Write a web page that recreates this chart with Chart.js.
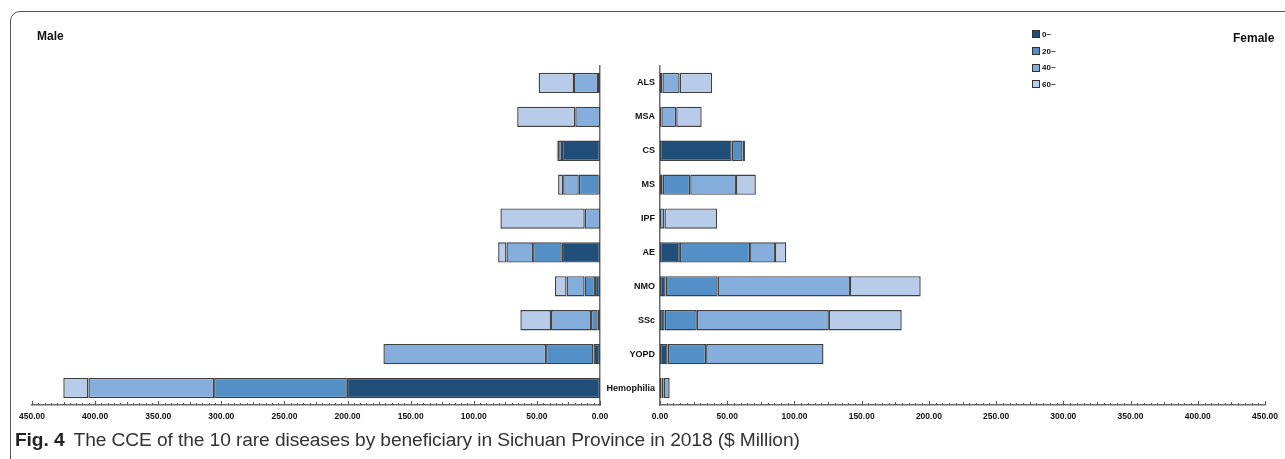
<!DOCTYPE html>
<html>
<head>
<meta charset="utf-8">
<script src="https://cdn.jsdelivr.net/npm/chart.js@4.4.1/dist/chart.umd.min.js"></script>
<style>
  html, body { margin: 0; padding: 0; background: #fff; }
  body { width: 1285px; height: 459px; position: relative; overflow: hidden; font-family: "Liberation Sans", Arial, sans-serif; }
  #frame { position: absolute; left: 10px; top: 11px; width: 1300px; height: 470px; border: 1px solid #555; border-radius: 10px; box-sizing: border-box; }
  #leftWrap { position: absolute; left: 0; top: 0; width: 620px; height: 459px; }
  #rightWrap { position: absolute; left: 600px; top: 0; width: 685px; height: 459px; }
  .side { position: absolute; font-weight: bold; font-size: 12px; color: #111; }
  #legend { position: absolute; left: 1032px; top: 26px; }
  .item { height: 16.7px; display: flex; align-items: center; font-size: 8px; font-weight: bold; color: #111; }
  .box { width: 6px; height: 6px; border: 1px solid #333; margin-right: 2px; }
  #caption { position: absolute; left: 15px; top: 429px; font-size: 19.2px; line-height: 22px; color: #333; white-space: nowrap; letter-spacing: -0.1px; }
  #caption b { margin-right: 9px; color: #222; }
</style>
</head>
<body>
<div id="frame"></div>
<div id="leftWrap"><canvas id="maleChart"></canvas></div>
<div id="rightWrap"><canvas id="femaleChart"></canvas></div>
<div class="side" style="left:37px; top:29px;">Male</div>
<div class="side" style="left:1233px; top:31px;">Female</div>
<div id="legend"></div>
<div id="caption"><b>Fig. 4</b>The CCE of the 10 rare diseases by beneficiary in Sichuan Province in 2018 ($ Million)</div>
<script>
const categories = ['ALS', 'MSA', 'CS', 'MS', 'IPF', 'AE', 'NMO', 'SSc', 'YOPD', 'Hemophilia'];
const ageGroups = ['0~', '20~', '40~', '60~'];
const groupColors = ['#204E79', '#5490C7', '#85AEDD', '#B8CCE9'];

const male0 = [1.6, 0, 30.1, 1.0, 0, 30.3, 4.0, 1.8, 5.2, 200.6];
const male20 = [0, 0, 3.5, 15.8, 0, 22.7, 8.2, 5.3, 37.5, 105.1];
const male40 = [19.0, 19.6, 0.7, 12.4, 12.1, 21.1, 14.3, 31.7, 128.9, 99.6];
const male60 = [28.0, 46.0, 0, 4.0, 66.8, 6.6, 9.2, 24.3, 0, 19.9];

const female0 = [1.8, 1.0, 53.3, 2.0, 0, 14.8, 4.2, 3.5, 5.7, 1.2];
const female20 = [0, 0, 8.1, 20.5, 0, 52.2, 38.7, 23.9, 28.6, 1.5];
const female40 = [12.8, 11.1, 1.8, 34.0, 3.3, 18.5, 98.4, 98.2, 87.3, 4.5];
const female60 = [24.2, 18.9, 0, 14.8, 39.2, 8.4, 52.6, 54.2, 0, 0];

const axisTicks = ['0.00', '50.00', '100.00', '150.00', '200.00', '250.00', '300.00', '350.00', '400.00', '450.00'];

const maleSeries = [male0, male20, male40, male60];
const femaleSeries = [female0, female20, female40, female60];

// small tick marks pointing up from the value axis
const minorTicks = {
    id: 'minorTicks',
    afterDraw: (chart) => {
        const x = chart.scales.x;
        const ctx = chart.ctx;
        const y0 = chart.chartArea.bottom;
        ctx.save();
        ctx.strokeStyle = '#555';
        ctx.lineWidth = 1;
        for (let v = x.min; v <= x.max; v += 5) {
            const px = Math.round(x.getPixelForValue(v)) + 0.5;
            const len = v % 50 === 0 ? 4 : (v % 25 === 0 ? 3 : 2);
            ctx.beginPath();
            ctx.moveTo(px, y0);
            ctx.lineTo(px, y0 - len);
            ctx.stroke();
        }
        ctx.restore();
    }
};

const makeDatasets = (series) => series.map((data, i) => ({
    label: ageGroups[i],
    data: data,
    backgroundColor: groupColors[i],
    borderColor: '#404040',
    borderWidth: 1.4,
    borderSkipped: false,
    categoryPercentage: 1,
    barPercentage: 0.6
}));

const xAxis = (reverse) => ({
    type: 'linear',
    stacked: true,
    reverse: reverse,
    min: 0,
    max: 450,
    afterBuildTicks: (scale) => {
        scale.ticks = axisTicks.map(t => ({ value: parseFloat(t) }));
    },
    afterFit: (scale) => { scale.height = 20; },
    ticks: {
        autoSkip: false,
        maxRotation: 0,
        padding: 7,
        color: '#111',
        font: { family: 'Liberation Sans', size: 8.5, weight: 'bold' },
        callback: (value) => Number(value).toFixed(2)
    },
    grid: { display: false, drawTicks: false },
    border: { display: true, color: '#6b6b6b', width: 1.5 }
});

const maleChart = new Chart(document.getElementById('maleChart').getContext('2d'), {
    type: 'bar',
    data: { labels: categories, datasets: makeDatasets(maleSeries) },
    options: {
        indexAxis: 'y',
        responsive: true,
        maintainAspectRatio: false,
        animation: false,
        layout: { padding: { left: 32, right: 20, top: 66, bottom: 34 } },
        scales: {
            x: xAxis(true),
            y: {
                stacked: true,
                position: 'right',
                afterFit: (scale) => { scale.width = 0; },
                ticks: { display: false },
                grid: { display: false, drawTicks: false },
                border: { display: true, color: '#6b6b6b', width: 1.5 }
            }
        },
        plugins: { legend: { display: false }, tooltip: { enabled: false } }
    },
    plugins: [minorTicks]
});

const femaleChart = new Chart(document.getElementById('femaleChart').getContext('2d'), {
    type: 'bar',
    data: { labels: categories, datasets: makeDatasets(femaleSeries) },
    options: {
        indexAxis: 'y',
        responsive: true,
        maintainAspectRatio: false,
        animation: false,
        layout: { padding: { left: 0, right: 16, top: 66, bottom: 34 } },
        scales: {
            x: xAxis(false),
            y: {
                stacked: true,
                position: 'left',
                afterFit: (scale) => { scale.width = 60; },
                ticks: {
                    padding: 5,
                    color: '#111',
                    font: { family: 'Liberation Sans', size: 9, weight: 'bold' }
                },
                grid: { display: false, drawTicks: false },
                border: { display: true, color: '#6b6b6b', width: 1.5 }
            }
        },
        plugins: { legend: { display: false }, tooltip: { enabled: false } }
    },
    plugins: [minorTicks]
});

// legend built from the dataset labels and colours
const legendEl = document.getElementById('legend');
femaleChart.data.datasets.forEach(ds => {
    const item = document.createElement('div');
    item.className = 'item';
    item.innerHTML = '<span class="box" style="background:' + ds.backgroundColor + '"></span>' + ds.label;
    legendEl.appendChild(item);
});
</script>
</body>
</html>
